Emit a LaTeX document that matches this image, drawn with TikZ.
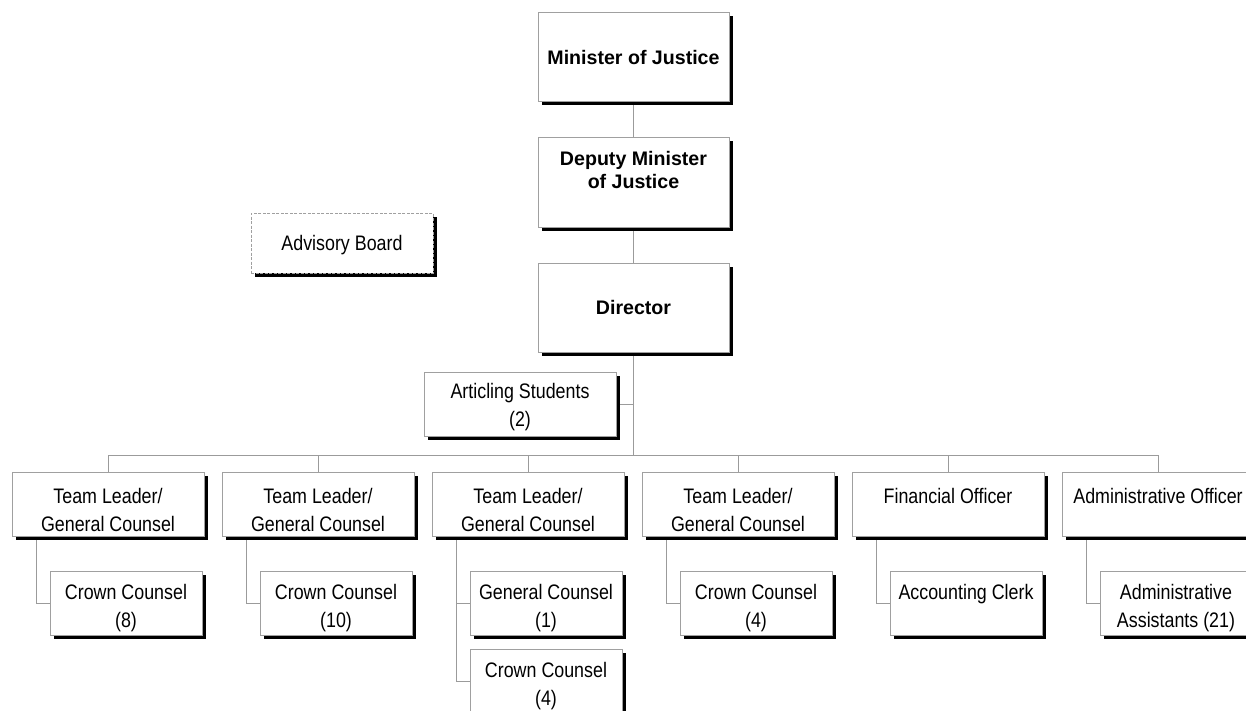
\documentclass[tikz,border=0pt]{standalone}
\usepackage{fontspec}
\setmainfont{Liberation Sans}
\newfontfamily\rf{Liberation Sans}[FakeStretch=0.85]
\usetikzlibrary{shadows}
\definecolor{bord}{RGB}{160,160,160}
\definecolor{connc}{RGB}{155,155,155}
\newcommand\twoline[2]{\vtop{\halign{\hfil##\hfil\cr #1\cr #2\cr}}}
\pgfdeclarelayer{bg}
\pgfsetlayers{bg,main}
\tikzset{
 box/.style={draw=bord, line width=1pt, fill=white, rectangle, anchor=north west,
   outer sep=0pt, inner sep=0pt,
   drop shadow={shadow xshift=4pt, shadow yshift=-4pt, fill=black, opacity=1}},
 bigbox/.style={box, minimum width=191pt, minimum height=89pt},
 tlbox/.style={box, minimum width=192pt, minimum height=64pt},
 chbox/.style={box, minimum width=152pt, minimum height=64pt},
 reg/.style={font=\rf\fontsize{21}{28}\selectfont, inner sep=0pt, anchor=base},
 bld/.style={font=\bfseries\fontsize{19.6}{23}\selectfont, inner sep=0pt, anchor=base},
 cn/.style={draw=connc, line width=1pt}
}
\begin{document}
\begin{tikzpicture}[x=1pt,y=-1pt]
\clip (0,0) rectangle (1246,710);

% top chain
\node[bigbox] (min) at (538,12) {};
\node[bld] (mint) at ([yshift=-52pt]min.north) {Minister of Justice};
\node[bigbox, minimum height=90pt] (dep) at (538,137) {};
\node[bld] (dept) at ([yshift=-28pt]dep.north) {\twoline{Deputy Minister}{of Justice}};
\node[bigbox] (dir) at (538,263) {};
\node[bld] (dirt) at ([yshift=-51pt]dir.north) {Director};

% advisory board
\node[box, dash pattern=on 3pt off 1.5pt, minimum width=182pt, minimum height=60pt] (adv) at (251,213) {};
\node[reg] (advt) at ([yshift=-37pt]adv.north) {Advisory Board};

% articling students
\node[tlbox] (art) at (424,372) {};
\node[reg] (artt) at ([yshift=-26pt]art.north) {\twoline{Articling Students}{(2)}};

% second level
\node[tlbox] (tl1) at (12,472) {};
\node[tlbox] (tl2) at (222,472) {};
\node[tlbox] (tl3) at (432,472) {};
\node[tlbox] (tl4) at (642,472) {};
\node[tlbox] (tl5) at (852,472) {};
\node[tlbox] (tl6) at (1062,472) {};
\node[reg] (tl1t) at ([yshift=-31pt]tl1.north) {\twoline{Team Leader/}{General Counsel}};
\node[reg] (tl2t) at ([yshift=-31pt]tl2.north) {\twoline{Team Leader/}{General Counsel}};
\node[reg] (tl3t) at ([yshift=-31pt]tl3.north) {\twoline{Team Leader/}{General Counsel}};
\node[reg] (tl4t) at ([yshift=-31pt]tl4.north) {\twoline{Team Leader/}{General Counsel}};
\node[reg] (tl5t) at ([yshift=-31pt]tl5.north) {Financial Officer};
\node[reg] (tl6t) at ([yshift=-31pt]tl6.north) {Administrative Officer};

% third level
\node[chbox] (cc1) at (50,571) {};
\node[chbox] (cc2) at (260,571) {};
\node[chbox] (cc3) at (470,571) {};
\node[chbox] (cc3b) at (470,649) {};
\node[chbox] (cc4) at (680,571) {};
\node[chbox] (cc5) at (890,571) {};
\node[chbox] (cc6) at (1100,571) {};
\node[reg] (cc1t) at ([yshift=-28pt]cc1.north) {\twoline{Crown Counsel}{(8)}};
\node[reg] (cc2t) at ([yshift=-28pt]cc2.north) {\twoline{Crown Counsel}{(10)}};
\node[reg] (cc3t) at ([yshift=-28pt]cc3.north) {\twoline{General Counsel}{(1)}};
\node[reg] (cc3bt) at ([yshift=-28pt]cc3b.north) {\twoline{Crown Counsel}{(4)}};
\node[reg] (cc4t) at ([yshift=-28pt]cc4.north) {\twoline{Crown Counsel}{(4)}};
\node[reg] (cc5t) at ([yshift=-28pt]cc5.north) {Accounting Clerk};
\node[reg] (cc6t) at ([yshift=-28pt]cc6.north) {\twoline{Administrative}{Assistants (21)}};

% background and connectors
\begin{pgfonlayer}{bg}
\fill[white] (0,0) rectangle (1246,710);
\coordinate (bus) at ([yshift=-103pt]dir.south);
\draw[cn] (min.south) -- (dep.north);
\draw[cn] (dep.south) -- (dir.north);
\draw[cn] (dir.south) -- (bus);
\draw[cn] (art.east) -- (art.east -| bus);
\foreach \i in {1,...,6} {
  \draw[cn] (tl\i.north) |- (bus);
  \draw[cn] ([xshift=24pt]tl\i.south west) |- (cc\i.west);
}
\draw[cn] ([xshift=24pt]tl3.south west) |- (cc3b.west);
\end{pgfonlayer}
\end{tikzpicture}
\end{document}
